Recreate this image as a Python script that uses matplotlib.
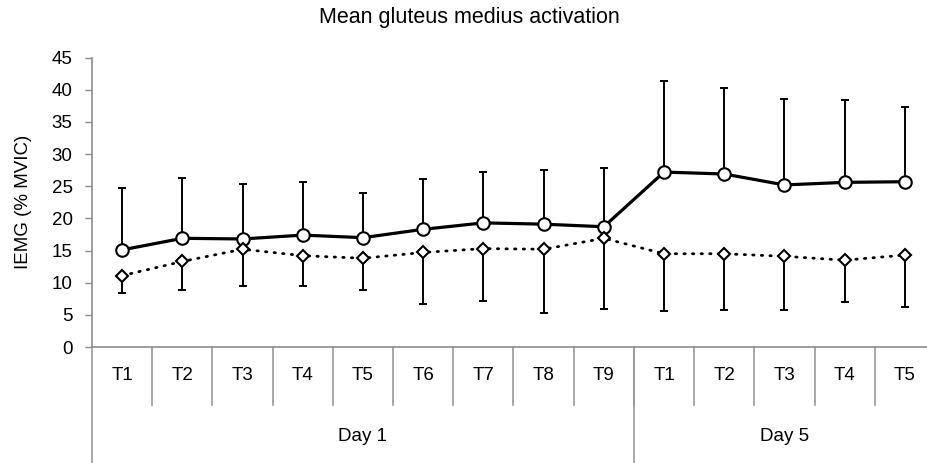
import matplotlib
matplotlib.use('Agg')
import matplotlib.pyplot as plt
import numpy as np

plt.rcParams['font.family'] = ['Liberation Sans', 'DejaVu Sans']

# data
trials = ['T1', 'T2', 'T3', 'T4', 'T5', 'T6', 'T7', 'T8', 'T9',
          'T1', 'T2', 'T3', 'T4', 'T5']
days = ['Day 1', 'Day 5']
day_sizes = [9, 5]

solid_mean = [15.1, 16.9, 16.8, 17.4, 17.0, 18.3, 19.3, 19.1, 18.7,
              27.2, 26.9, 25.2, 25.6, 25.7]
solid_upper = [24.7, 26.3, 25.3, 25.7, 24.0, 26.1, 27.2, 27.5, 27.9,
               41.4, 40.3, 38.6, 38.4, 37.3]

dotted_mean = [11.1, 13.3, 15.2, 14.2, 13.8, 14.7, 15.3, 15.2, 16.9,
               14.5, 14.5, 14.1, 13.5, 14.3]
dotted_lower = [8.4, 8.8, 9.5, 9.5, 8.9, 6.7, 7.1, 5.3, 5.9,
                5.6, 5.7, 5.7, 7.0, 6.2]

W, H = 928, 463
fig = plt.figure(figsize=(W / 100, H / 100), dpi=100)
ax = fig.add_axes([92 / W, 116 / H, 843 / W, 289.4 / H])

x = np.arange(len(trials)) + 0.5
solid_mean = np.array(solid_mean)
dotted_mean = np.array(dotted_mean)
up_err = np.array(solid_upper) - solid_mean
low_err = dotted_mean - np.array(dotted_lower)

ax.errorbar(x, solid_mean, yerr=[np.zeros_like(up_err), up_err], fmt='none',
            ecolor='black', elinewidth=1.4, capsize=3.0, capthick=1.4, zorder=2)
ax.errorbar(x, dotted_mean, yerr=[low_err, np.zeros_like(low_err)], fmt='none',
            ecolor='black', elinewidth=1.4, capsize=3.0, capthick=1.4, zorder=2)

ax.plot(x, solid_mean, color='black', lw=2.3, marker='o', ms=9,
        mfc='white', mec='black', mew=1.5, zorder=3)
ax.plot(x, dotted_mean, color='black', lw=2.0, linestyle=(0, (0.5, 2.6)),
        dash_capstyle='round', marker='D', ms=6, mfc='white', mec='black',
        mew=1.5, zorder=4)

ax.set_xlim(0, len(trials))
ax.set_ylim(0, 45)
ax.set_yticks(np.arange(0, 46, 5))
ax.tick_params(axis='y', colors='#8c8c8c', labelcolor='black', length=5,
               width=1, pad=9, labelsize=13.5)
ax.set_xticks([])
for side in ['top', 'right']:
    ax.spines[side].set_visible(False)
for side in ['left', 'bottom']:
    ax.spines[side].set_color('#8c8c8c')
    ax.spines[side].set_linewidth(1.2)

# two-level category axis
trans = ax.get_xaxis_transform()
gray = '#9a9a9a'
for i in range(1, len(trials)):
    ax.plot([i, i], [0, -0.2], color=gray, lw=1.2, transform=trans, clip_on=False)
for i, t in enumerate(trials):
    ax.text(i + 0.5, -0.1, t, transform=trans, ha='center', va='center', fontsize=13.5)

edges = np.concatenate([[0], np.cumsum(day_sizes)])
for e in edges:
    ax.plot([e, e], [0, -0.41], color=gray, lw=1.2, transform=trans, clip_on=False)
for d, a, b in zip(days, edges[:-1], edges[1:]):
    ax.text((a + b) / 2, -0.31, d, transform=trans, ha='center', va='center', fontsize=13.5)

ax.set_ylabel('IEMG (% MVIC)', fontsize=13.5)
ax.yaxis.set_label_coords(-0.071, 0.5)

fig.text(469 / W, 1 - 17 / H, 'Mean gluteus medius activation', ha='center',
         va='center', fontsize=15.5)

fig.savefig('out.png', dpi=100)
